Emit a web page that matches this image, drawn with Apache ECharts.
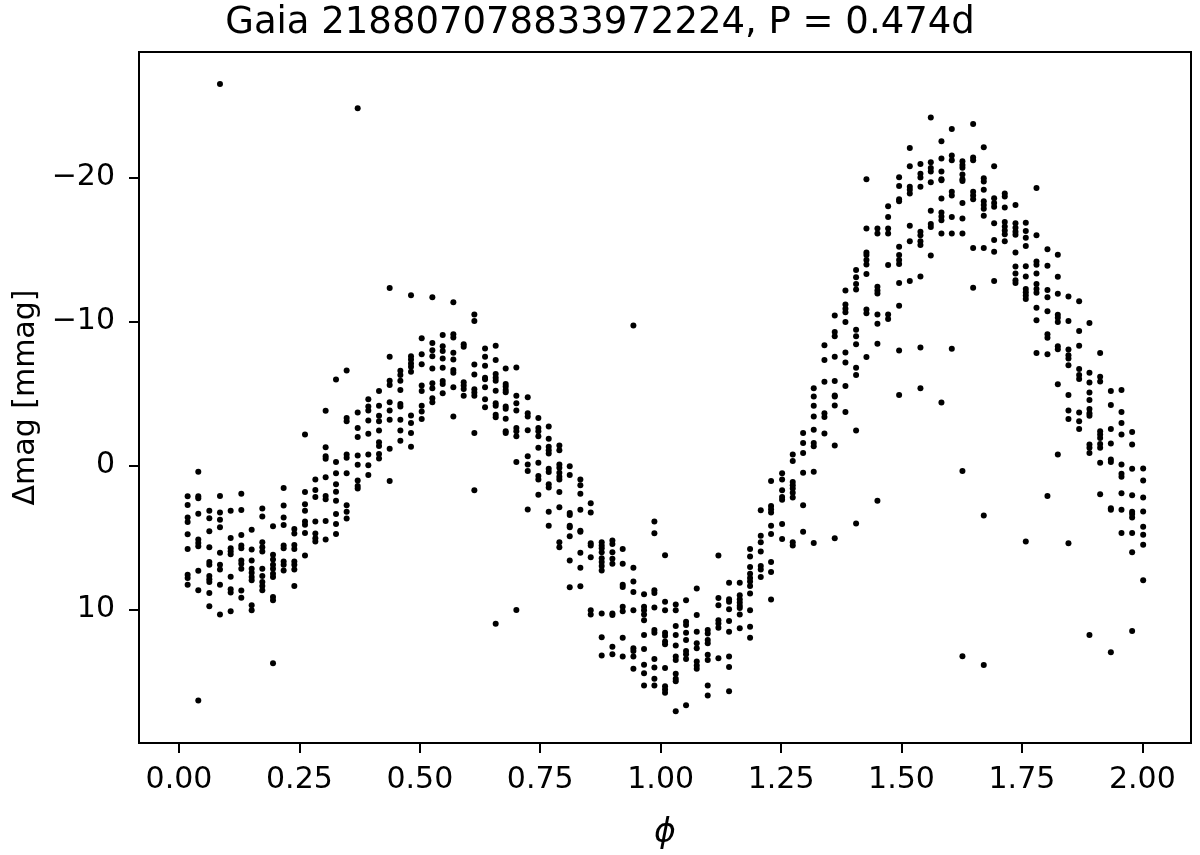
<!DOCTYPE html>
<html>
<head>
<meta charset="utf-8">
<title>Gaia 218807078833972224</title>
<script src="https://cdn.jsdelivr.net/npm/echarts@6/dist/echarts.min.js"></script>
<style>
  html, body { margin: 0; padding: 0; background: #fff; }
  #chart { width: 1200px; height: 855px; }
</style>
</head>
<body>
<div id="chart"></div>
<script>
// phase of each column of points
var phase = [
  0.0180, 0.0401, 0.0630, 0.0851, 0.1073, 0.1294, 0.1509, 0.1730, 0.1952, 0.2173,
  0.2395, 0.2616, 0.2831, 0.3045, 0.3260, 0.3481, 0.3710, 0.3931, 0.4153, 0.4374,
  0.4596, 0.4817, 0.5039, 0.5260, 0.5475, 0.5696, 0.5911, 0.6132, 0.6354, 0.6575,
  0.6783, 0.7004, 0.7240, 0.7461, 0.7676, 0.7897, 0.8112, 0.8333, 0.8548, 0.8776,
  0.8998, 0.9212, 0.9434, 0.9655, 0.9870, 1.0091, 1.0313, 1.0527, 1.0749, 1.0977,
  1.1199, 1.1420, 1.1642, 1.1856, 1.2078, 1.2292, 1.2521, 1.2742, 1.2957, 1.3178,
  1.3400, 1.3614, 1.3836, 1.4057, 1.4272, 1.4500, 1.4722, 1.4950, 1.5172, 1.5393,
  1.5608, 1.5829, 1.6044, 1.6265, 1.6487, 1.6708, 1.6923, 1.7144, 1.7366, 1.7580,
  1.7802, 1.8030, 1.8245, 1.8466, 1.8688, 1.8902, 1.9124, 1.9346, 1.9567, 1.9788,
  2.0017
]

// delta mag [mmag] of the points in each column
var mag = [
  [2.14, 2.74, 3.62, 3.92, 4.77, 5.80, 7.59, 7.82, 8.28],
  [0.44, 2.14, 2.28, 3.36, 5.15, 5.38, 5.61, 7.31, 8.66, 16.32],
  [3.15, 3.66, 4.57, 5.68, 6.71, 6.90, 7.68, 7.91, 8.09, 8.85, 9.77],
  [-26.48, 2.12, 3.27, 3.77, 4.30, 6.07, 6.90, 7.22, 8.28, 10.35],
  [3.15, 5.04, 5.75, 5.96, 6.16, 7.73, 8.60, 8.83, 10.12],
  [1.96, 3.10, 4.83, 5.56, 5.75, 6.60, 6.83, 7.17, 8.69, 9.19],
  [4.46, 5.84, 6.60, 7.17, 7.45, 7.75, 7.98, 9.70, 10.05],
  [2.99, 3.54, 5.33, 5.68, 5.98, 7.17, 7.68, 8.09, 8.37, 8.67],
  [4.23, 6.21, 6.53, 6.90, 7.17, 7.52, 7.75, 9.13, 9.36, 13.73],
  [1.57, 2.78, 3.61, 4.14, 5.56, 5.75, 6.67, 6.90, 7.29],
  [4.42, 4.72, 5.52, 5.80, 6.67, 6.90, 7.22, 8.37],
  [-2.14, 1.84, 2.69, 3.15, 3.89, 4.12, 4.69, 6.25],
  [0.97, 1.70, 2.19, 3.89, 4.72, 5.06, 5.29],
  [-3.79, -1.26, -0.64, -0.46, 0.83, 2.12, 2.35, 3.86, 5.15],
  [-5.97, -0.23, 0.55, 1.31, 1.82, 2.46, 3.38, 4.07, 4.76],
  [-6.59, -3.29, -3.06, -0.76, -0.53, 0.55, 2.76, 3.22, 3.68],
  [-24.8, -3.68, -2.60, -1.97, -0.69, -0.04, 1.04, 1.43, 1.61],
  [-4.60, -4.09, -3.81, -3.12, -2.20, -0.76, -0.02, 0.67],
  [-5.17, -4.14, -3.45, -3.06, -2.42, -1.61, -1.34, -0.80, -0.48],
  [-12.32, -7.54, -5.88, -5.58, -4.39, -3.81, -3.17, -1.15, 1.08],
  [-6.57, -6.27, -5.88, -5.24, -4.27, -4.09, -3.17, -2.43, -1.72],
  [-11.81, -7.58, -7.35, -7.08, -6.85, -6.50, -3.47, -2.94, -2.25, -1.29],
  [-8.83, -7.72, -7.03, -5.54, -5.17, -4.14, -3.74, -3.22],
  [-11.67, -8.50, -8.00, -7.58, -6.73, -5.70, -5.36, -4.67, -4.39],
  [-9.06, -8.27, -7.95, -7.42, -6.78, -5.86, -5.65, -5.01],
  [-11.33, -9.11, -8.88, -7.82, -7.36, -6.62, -6.44, -5.43, -3.40],
  [-8.41, -8.23, -5.77, -5.54, -5.31, -4.83],
  [-10.48, -10.02, -7.01, -6.32, -5.29, -5.06, -4.83, -2.25, 1.73],
  [-8.11, -7.54, -6.92, -6.09, -5.98, -5.43, -4.60, -4.04],
  [-8.30, -7.31, -6.34, -6.09, -5.88, -5.19, -4.32, -4.14, -3.51, -3.35, 11.0],
  [-6.73, -5.65, -5.47, -5.24, -5.08, -4.09, -3.93, -3.24, -2.37, -2.25],
  [-6.80, -4.83, -4.32, -3.82, -2.60, -2.37, -2.02, -0.23, 10.03],
  [-4.73, -3.63, -3.40, -2.44, -0.64, -0.07, 0.39, 3.06],
  [-3.29, -2.60, -2.37, -2.02, -1.22, -0.18, 0.74, 0.97, 2.03],
  [-2.71, -1.86, -1.29, -1.06, -0.83, 0.23, 0.46, 1.31, 1.54, 3.22, 4.19],
  [-1.38, -1.06, -0.07, 0.16, 0.51, 0.78, 0.97, 1.84, 2.90, 5.34, 5.68],
  [0.05, 0.67, 3.31, 3.45, 4.19, 4.30, 4.92, 6.60, 8.46],
  [0.97, 1.38, 1.96, 3.08, 4.53, 4.60, 6.07, 7.11, 8.39],
  [2.62, 3.27, 5.40, 5.56, 6.37, 10.05, 10.35],
  [5.34, 5.56, 5.75, 6.02, 6.44, 6.71, 6.99, 7.29, 10.28, 11.93, 13.20],
  [5.22, 5.45, 6.02, 6.48, 6.83, 10.28, 10.39, 12.58, 13.11],
  [5.80, 6.83, 8.28, 8.44, 9.82, 10.12, 11.96, 13.27],
  [-9.72, 7.10, 8.05, 8.78, 10.05, 12.69, 12.88, 13.27, 14.12],
  [8.94, 9.82, 10.05, 10.35, 10.74, 11.77, 12.74, 13.84, 14.42, 15.27],
  [3.89, 4.71, 8.67, 8.85, 9.86, 11.43, 11.61, 13.43, 14.03, 14.81, 15.27],
  [6.23, 9.47, 10.05, 11.61, 11.82, 12.23, 12.41, 14.07, 15.33, 15.56, 15.79],
  [9.66, 10.05, 11.15, 11.77, 12.51, 13.27, 13.50, 14.46, 14.81, 14.99, 17.06],
  [9.36, 10.85, 11.08, 11.61, 12.12, 12.88, 13.11, 13.43, 16.65],
  [8.55, 10.39, 11.54, 12.35, 12.69, 13.61, 13.89, 14.12],
  [11.43, 11.66, 12.12, 12.35, 13.15, 13.50, 15.27, 15.98],
  [6.26, 9.20, 9.70, 10.74, 10.97, 11.27, 13.38],
  [8.14, 9.29, 9.47, 9.98, 10.80, 11.54, 13.27, 14.00, 15.68],
  [8.14, 9.01, 9.29, 9.52, 9.75, 9.89, 10.35, 11.31],
  [5.80, 6.32, 7.06, 7.52, 7.82, 8.05, 8.37, 8.90, 10.05, 11.20, 11.96],
  [3.11, 4.88, 5.34, 5.98, 6.99, 7.22, 7.75],
  [1.08, 2.81, 3.04, 3.27, 4.19, 4.76, 6.71, 7.40, 9.31],
  [0.55, 0.97, 1.73, 2.19, 2.39, 4.07, 5.11],
  [-0.76, -0.30, 1.15, 1.38, 1.61, 1.89, 2.23, 5.34, 5.56],
  [-2.25, -1.56, -0.87, 0.51, 2.76, 4.60],
  [-5.36, -4.78, -4.14, -3.40, -2.48, -1.56, -1.33, 0.44, 5.38],
  [-8.34, -7.31, -5.81, -3.63, -3.36, -2.21],
  [-10.41, -9.26, -8.97, -7.54, -5.86, -4.85, -4.78, -4.16, -1.38, 5.06],
  [-12.14, -11.17, -10.87, -10.64, -9.95, -7.84, -7.15, -5.52, -3.70],
  [-13.56, -13.06, -12.60, -12.21, -9.42, -8.97, -8.41, -6.78, -6.27, -2.43, 4.03],
  [-19.87, -16.44, -14.78, -14.60, -14.26, -13.94, -13.28, -10.82, -10.56, -7.52],
  [-16.44, -16.10, -12.40, -12.14, -11.93, -10.48, -9.84, -8.45, 2.45],
  [-18.00, -17.24, -16.44, -16.10, -13.91, -10.48, -10.16],
  [-20.01, -19.40, -18.47, -18.34, -15.18, -14.60, -14.26, -13.99, -12.67, -11.08, -7.97, -4.89],
  [-22.04, -20.77, -19.35, -19.14, -18.87, -16.63, -15.57, -12.80],
  [-20.93, -20.25, -19.98, -19.35, -16.23, -15.97, -15.57, -15.31, -13.12, -8.18, -5.36],
  [-24.15, -21.04, -20.64, -20.40, -19.66, -17.68, -16.76, -16.55, -14.57],
  [-22.51, -21.30, -20.40, -19.87, -19.79, -18.53, -17.55, -17.28, -17.02, -16.10, -4.36],
  [-23.36, -21.51, -21.19, -19.00, -18.74, -17.24, -16.10, -8.10],
  [-21.11, -20.85, -20.67, -20.19, -19.87, -19.74, -18.21, -17.15, -16.10, 0.39, 13.25],
  [-23.70, -21.38, -21.19, -19.00, -18.74, -18.47, -15.10, -12.33],
  [-22.09, -19.93, -19.71, -19.13, -18.34, -18.08, -17.81, -17.34, -15.10, 3.48, 13.86],
  [-20.77, -18.55, -18.21, -17.95, -16.81, -15.65, -14.83, -12.80],
  [-18.87, -18.66, -17.90, -16.89, -16.58, -16.31, -16.05, -15.57],
  [-18.08, -16.81, -16.50, -16.23, -16.02, -14.78, -13.81, -13.33, -12.86, -12.67],
  [-16.85, -16.27, -15.81, -15.24, -13.82, -13.12, -12.25, -12.02, -11.79, -11.56, 5.29],
  [-19.26, -15.98, -14.16, -13.93, -13.33, -12.60, -12.25, -11.98, -10.94, -10.07, -7.81],
  [-15.01, -13.86, -12.18, -11.68, -10.71, -9.10, -8.87, -7.72, 2.12],
  [-14.62, -13.10, -11.91, -10.46, -10.25, -9.95, -8.27, -8.07, -5.63, -0.76],
  [-11.72, -10.02, -8.05, -7.65, -7.42, -6.96, -4.89, -3.81, -3.22, 5.41],
  [-11.40, -9.33, -8.30, -6.69, -6.27, -6.00, -3.68, -3.06, -2.53],
  [-9.88, -6.43, -5.75, -5.06, -4.55, -3.91, -3.63, -3.45, -1.45, -1.22, -0.87, 11.77],
  [-7.81, -6.16, -5.82, -2.37, -2.14, -1.91, -1.49, -1.22, -0.18, 2.00],
  [-5.17, -4.20, -2.53, -1.52, -0.41, -0.23, 2.97, 3.08, 12.97],
  [-5.24, -3.70, -2.94, -2.14, -0.07, 0.58, 0.78, 1.93, 3.08, 4.69],
  [-2.32, -1.45, 0.23, 2.07, 3.22, 3.38, 3.61, 4.69, 6.03, 11.50],
  [0.21, 1.04, 2.23, 3.20, 4.26, 4.81, 5.50, 7.98]
]

var xTicks = [0, 0.25, 0.5, 0.75, 1.0, 1.25, 1.5, 1.75, 2.0]
var yTicks = [-20, -10, 0, 10]

var points = []
phase.forEach(function(p, i) {
  mag[i].forEach(function(m) {
    points.push([p, m])
  })
})

var font = 'DejaVu Sans'
var chart = echarts.init(document.getElementById('chart'))
chart.setOption({
  backgroundColor: '#fff',
  animation: false,
  title: {
    text: 'Gaia 218807078833972224, P = 0.474d',
    left: 'center',
    top: 0,
    textStyle: { fontFamily: font, fontSize: 37, fontWeight: 'normal', color: '#000' }
  },
  grid: {
    left: 139, right: 9, top: 52, bottom: 106,
    show: true, borderColor: '#000', borderWidth: 2
  },
  xAxis: {
    type: 'value',
    min: -0.083,
    max: 2.101,
    name: 'ϕ',
    nameLocation: 'middle',
    nameGap: 74,
    nameTextStyle: { fontFamily: font, fontSize: 33, fontStyle: 'italic', color: '#000' },
    axisLine: { onZero: false, lineStyle: { color: '#000', width: 2 } },
    axisTick: { show: true, length: 10, lineStyle: { color: '#000', width: 2 }, customValues: xTicks },
    axisLabel: {
      color: '#000', fontFamily: font, fontSize: 30, margin: 22,
      customValues: xTicks,
      formatter: function(v) { return v.toFixed(2) }
    },
    splitLine: { show: false }
  },
  yAxis: {
    type: 'value',
    inverse: true,
    min: -28.7,
    max: 19.27,
    name: 'Δmag [mmag]',
    nameLocation: 'middle',
    nameGap: 93,
    nameTextStyle: { fontFamily: font, fontSize: 30, color: '#000' },
    axisLine: { onZero: false, lineStyle: { color: '#000', width: 2 } },
    axisTick: { show: true, length: 10, lineStyle: { color: '#000', width: 2 }, customValues: yTicks },
    axisLabel: {
      color: '#000', fontFamily: font, fontSize: 30, margin: 24,
      customValues: yTicks,
      formatter: function(v) { return String(v).replace('-', '\u2212') }
    },
    splitLine: { show: false }
  },
  series: [{
    type: 'scatter',
    data: points,
    symbol: 'circle',
    symbolSize: 6,
    itemStyle: { color: '#000', opacity: 1 }
  }]
})
</script>
</body>
</html>
